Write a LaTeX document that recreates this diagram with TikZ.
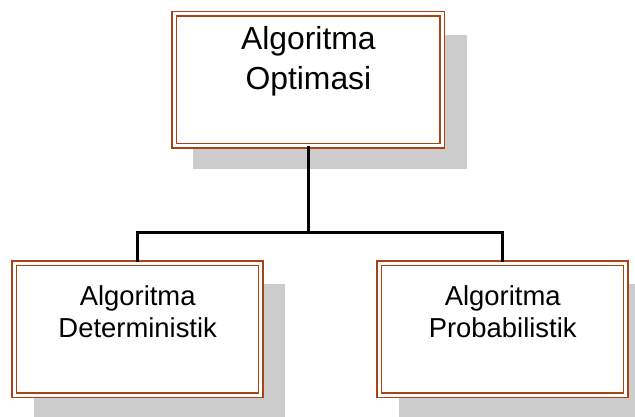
\documentclass[tikz,border=0pt]{standalone}
\usepackage{fontspec}
\setmainfont{Liberation Sans}
\usetikzlibrary{positioning,shadows}
\definecolor{boxborder}{RGB}{172,66,20}
\definecolor{shadowgray}{RGB}{204,204,204}
\tikzset{
block/.style={
  rectangle,
  draw=boxborder,
  fill=white,
  double=white,
  double distance=0.09cm,
  line width=0.045cm,
  align=center,
  inner ysep=0pt,
  drop shadow={shadow xshift=0.64cm, shadow yshift=-0.66cm,
    shadow scale=1.02, fill=shadowgray, opacity=1}},
topblock/.style={
  block,
  text width=7cm,
  minimum width=8.04cm,
  text height=1.08cm,
  text depth=2.865cm,
  font=\fontsize{27.2pt}{33.4pt}\selectfont},
subblock/.style={
  block,
  text width=6.5cm,
  minimum width=7.395cm,
  text height=1.26cm,
  text depth=2.7cm,
  font=\fontsize{23.4pt}{27.4pt}\selectfont},
line/.style={draw, black, line width=0.09cm}
}
\begin{document}
\begin{tikzpicture}[x=0.03cm, y=-0.03cm]
    \useasboundingbox (0,0) rectangle (635,417);
    \node [topblock] (opt) at (308.4,79.75) {Algoritma\\Optimasi};
    \node [subblock] (det) at (137.7,329) {Algoritma\\Deterministik};
    \node [subblock, right=3.51cm of det] (prob) {Algoritma\\Probabilistik};
    \coordinate (fork) at (opt.south |- 0,232);
    \path [line] (opt.south) -- (fork);
    \path [line] (fork) -| (det.north);
    \path [line] (fork) -| (prob.north);
\end{tikzpicture}
\end{document}
